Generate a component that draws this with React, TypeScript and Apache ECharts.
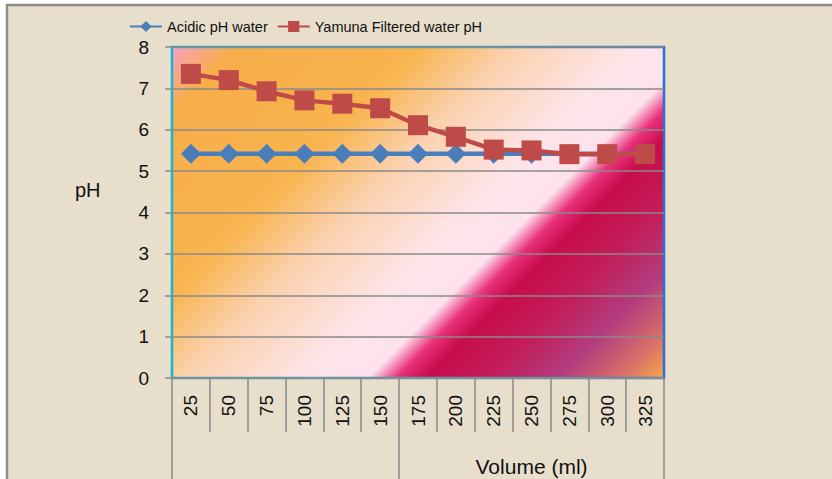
import React, { useEffect, useRef } from "react";
import * as echarts from "echarts";

const categories = ["25", "50", "75", "100", "125", "150", "175", "200", "225", "250", "275", "300", "325"];
const groupLabels = ["", "", "", "", "", "", "", "", "", "Volume (ml)", "", "", ""];
const acidic = [5.42, 5.42, 5.42, 5.42, 5.42, 5.42, 5.42, 5.42, 5.42, 5.42, 5.42, 5.42, 5.42];
const yamuna = [7.35, 7.2, 6.93, 6.71, 6.63, 6.52, 6.11, 5.83, 5.52, 5.5, 5.41, 5.41, 5.41];
const seriesNames = ["Acidic pH water", "Yamuna Filtered water pH"];
const yTitle = "pH";

const FONT = '"Liberation Sans", Arial, sans-serif';

export default function App() {
  const ref = useRef<HTMLDivElement>(null);
  useEffect(() => {
    if (!ref.current) return;
    const chart = echarts.init(ref.current, null, { renderer: "svg" });
    const plotBg = new echarts.graphic.LinearGradient(0, 0, 1.1514, 0.775, [
      { offset: 0, color: "#f8a0c4" },
      { offset: 0.08, color: "#f7ae4a" },
      { offset: 0.3, color: "#f8b44e" },
      { offset: 0.42, color: "#fbd2b0" },
      { offset: 0.56, color: "#fde4e8" },
      { offset: 0.64, color: "#fde2ee" },
      { offset: 0.675, color: "#e8307a" },
      { offset: 0.71, color: "#c80c4c" },
      { offset: 0.79, color: "#c21e5a" },
      { offset: 0.87, color: "#b23c7e" },
      { offset: 0.945, color: "#d87068" },
      { offset: 1, color: "#f5a848" },
    ]);
    chart.setOption({
      animation: false,
      backgroundColor: "#ffffff",
      textStyle: { fontFamily: FONT },
      graphic: [
        {
          type: "rect",
          z: -10,
          shape: { x: 7, y: 5, width: 840, height: 490 },
          style: { fill: "#e7dfcb", stroke: "#8c8c8c", lineWidth: 2.5 },
        },
        {
          type: "text",
          left: 75,
          top: 180,
          style: { text: yTitle, fontSize: 20, fill: "#111", fontFamily: FONT },
        },
      ],
      legend: {
        left: 124,
        top: 14,
        itemWidth: 32,
        itemHeight: 14,
        itemGap: 9,
        textStyle: { fontSize: 14.5, color: "#111", fontFamily: FONT },
        data: seriesNames,
      },
      grid: {
        left: 172,
        right: 168,
        top: 47,
        bottom: 101,
        show: true,
        backgroundColor: plotBg,
        borderWidth: 2.5,
        borderColor: new echarts.graphic.LinearGradient(0, 0, 1, 0, [
          { offset: 0, color: "#18b4d4" },
          { offset: 0.6, color: "#30a8dc" },
          { offset: 1, color: "#2a6ed8" },
        ]),
      },
      xAxis: [
        {
          type: "category",
          data: categories,
          boundaryGap: true,
          axisLine: { show: true, lineStyle: { color: "#8a8a8a", width: 1.5 } },
          axisTick: { show: true, length: 54, lineStyle: { color: "#8a8a8a", width: 1.5 } },
          axisLabel: { rotate: 90, interval: 0, margin: 17, fontSize: 19, color: "#111", fontFamily: FONT },
        },
        {
          type: "category",
          data: groupLabels,
          position: "bottom",
          offset: 54,
          boundaryGap: true,
          axisLine: { show: false },
          axisTick: {
            show: true,
            length: 50,
            interval: (i: number) => i === 0 || i === 6,
            lineStyle: { color: "#8a8a8a", width: 1.5 },
          },
          axisLabel: { interval: 0, margin: 24, fontSize: 21, color: "#111", fontFamily: FONT },
        },
      ],
      yAxis: {
        type: "value",
        min: 0,
        max: 8,
        interval: 1,
        axisLine: { show: false },
        axisTick: { show: true, length: 7, lineStyle: { color: "#8a8a8a", width: 1.5 } },
        axisLabel: { margin: 23, fontSize: 19, color: "#111", fontFamily: FONT },
        splitLine: { show: true, lineStyle: { color: "#8a8a8a", width: 1.5 } },
      },
      series: [
        {
          name: seriesNames[0],
          type: "line",
          data: acidic,
          xAxisIndex: 0,
          symbol: "diamond",
          symbolSize: 20,
          itemStyle: { color: "#4a7ebb" },
          lineStyle: { color: "#4a7ebb", width: 4.5 },
          z: 2,
        },
        {
          name: seriesNames[1],
          type: "line",
          data: yamuna,
          xAxisIndex: 0,
          symbol: "rect",
          symbolSize: 20,
          itemStyle: { color: "#be4b48" },
          lineStyle: { color: "#be4b48", width: 4.5 },
          z: 3,
        },
      ],
    });
    return () => chart.dispose();
  }, []);
  return (
    <div
      ref={ref}
      style={{ position: "absolute", left: 0, top: 0, width: 832, height: 479 }}
    />
  );
}
